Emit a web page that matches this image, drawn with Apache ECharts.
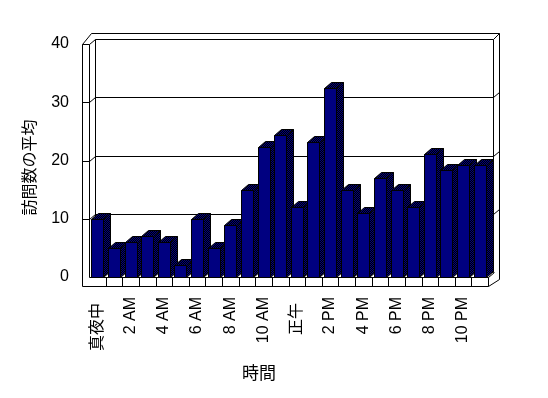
<!DOCTYPE html>
<html>
<head>
<meta charset="utf-8">
<script src="https://cdn.jsdelivr.net/npm/echarts@6/dist/echarts.min.js"></script>
<style>
  html, body { margin: 0; padding: 0; background: #fff; }
  #chart { width: 548px; height: 398px; }
</style>
</head>
<body>
<div id="chart"></div>
<script>
// hours of the day, labels shown every other one
const hours = ['真夜中', '1 AM', '2 AM', '3 AM', '4 AM', '5 AM', '6 AM', '7 AM', '8 AM', '9 AM', '10 AM', '11 AM',
  '正午', '1 PM', '2 PM', '3 PM', '4 PM', '5 PM', '6 PM', '7 PM', '8 PM', '9 PM', '10 PM', '11 PM']
const visits = [10, 5, 6, 7, 6, 2, 10, 5, 9, 15, 22.3, 24.3, 12, 23.2, 32.4, 15, 11, 17, 15, 12, 21.2, 18.3, 19.3, 19.3]
const yTicks = [0, 10, 20, 30, 40]

const font = '"Liberation Sans", "Noto Sans CJK JP", sans-serif'

// dithered navy/black fill for the shaded faces
const dither = document.createElement('canvas')
dither.width = 2
dither.height = 2
const dctx = dither.getContext('2d')
dctx.fillStyle = '#000000'
dctx.fillRect(0, 0, 2, 2)
dctx.fillStyle = '#000080'
dctx.fillRect(0, 0, 1, 1)
dctx.fillRect(1, 1, 1, 1)
const shade = { image: dither, repeat: 'repeat' }

const line = { stroke: '#000', lineWidth: 1, fill: null }
const px = v => Math.round(v) + 0.5

function renderFrame(params, api) {
  const cs = params.coordSys
  const x0 = Math.round(cs.x)
  const x1 = Math.round(cs.x + cs.width)
  const yT = Math.round(cs.y)
  const yB = Math.round(cs.y + cs.height)
  const step = api.size([1, 0])[0]
  const seg = (pts) => ({ type: 'polyline', shape: { points: pts.map(p => [px(p[0]), px(p[1])]) }, style: line, silent: true })
  const children = []
  // outer contour
  children.push({
    type: 'polygon',
    shape: { points: [[x0 - 7, yB + 9], [x0 - 7, yT], [x0 + 2, yT - 11], [x1 + 11, yT - 11], [x1 + 11, yB + 2], [x1, yB + 9]].map(p => [px(p[0]), px(p[1])]) },
    style: { stroke: '#000', lineWidth: 1, fill: '#fff' },
    silent: true
  })
  // left wall and back wall
  children.push(seg([[x0 - 7, yT], [x0, yT], [x0 + 6, yT - 5], [x1 + 5, yT - 5], [x1 + 11, yT - 11]]))
  children.push(seg([[x0, yT], [x0, yB]]))
  children.push(seg([[x0 + 6, yT - 5], [x0 + 6, yB - 5]]))
  children.push(seg([[x1 + 5, yT - 5], [x1 + 5, yB - 5]]))
  // floor
  children.push(seg([[x0, yB], [x1, yB], [x1 + 6, yB - 5]]))
  children.push(seg([[x0 + 6, yB - 5], [x1 + 5, yB - 5]]))
  children.push(seg([[x1, yB], [x1, yB + 9]]))
  for (let i = 1; i < hours.length; i++) {
    const x = x0 + step * i
    children.push(seg([[x, yB], [x, yB + 9]]))
  }
  // grid lines on the walls
  yTicks.slice(1, -1).forEach(v => {
    const y = api.coord([0, v])[1]
    children.push(seg([[x0 - 7, y], [x0, y], [x0 + 6, y - 5], [x1 + 5, y - 5], [x1 + 11, y - 10]]))
  })
  return { type: 'group', children: children }
}

function renderBar(params, api) {
  const i = api.value(0)
  const top = api.coord([i, api.value(1)])
  const base = api.coord([i, 0])
  const w = Math.round(api.size([1, 0])[0] * 0.74)
  const dx = 7
  const dy = 6
  const l = Math.round(top[0] - w / 2)
  const r = l + w
  const t = Math.round(top[1])
  const b = Math.round(base[1])
  const p = (x, y) => [px(x), px(y)]
  return {
    type: 'group',
    children: [{
      type: 'polygon',
      shape: { points: [p(r, t), p(r + dx, t - dy), p(r + dx, b - dy), p(r, b)] },
      style: { fill: shade, stroke: '#000', lineWidth: 1 }
    }, {
      type: 'polygon',
      shape: { points: [p(l, t), p(l + dx, t - dy), p(r + dx, t - dy), p(r, t)] },
      style: { fill: shade, stroke: '#000', lineWidth: 1 }
    }, {
      type: 'rect',
      shape: { x: px(l), y: px(t), width: w, height: b - t },
      style: { fill: '#000080', stroke: '#000', lineWidth: 1 }
    }]
  }
}

const chart = echarts.init(document.getElementById('chart'))
chart.setOption({
  animation: false,
  backgroundColor: '#fff',
  textStyle: { fontFamily: font },
  grid: { left: 89, right: 60, top: 44, bottom: 121, containLabel: false },
  graphic: [{
    type: 'text',
    left: 242,
    top: 366,
    style: { text: '時間', fontSize: 17, fill: '#000', fontFamily: font }
  }],
  xAxis: {
    type: 'category',
    data: hours,
    axisLine: { show: false },
    axisTick: { show: false },
    splitLine: { show: false },
    axisLabel: {
      interval: 1,
      rotate: 90,
      margin: 20,
      fontSize: 16,
      color: '#000',
      fontFamily: font,
      // Japanese labels sit a little lower in the original
      formatter: v => /[A-Z]/.test(v) ? v : '{cjk|' + v + '}',
      rich: { cjk: { fontSize: 16, padding: [0, 6, 0, 0] } }
    }
  },
  yAxis: {
    type: 'value',
    min: 0,
    max: 40,
    interval: 10,
    name: '訪問数の平均',
    nameLocation: 'middle',
    nameGap: 50,
    nameTextStyle: { fontSize: 16, color: '#000', fontFamily: font, padding: [0, 14, 0, 0] },
    axisLine: { show: false },
    axisTick: { show: false },
    splitLine: { show: false },
    axisLabel: { margin: 20, fontSize: 16, color: '#000', fontFamily: font }
  },
  series: [{
    type: 'custom',
    z: 1,
    silent: true,
    renderItem: renderFrame,
    data: [[0, 0]]
  }, {
    type: 'custom',
    z: 2,
    renderItem: renderBar,
    encode: { x: 0, y: 1 },
    data: visits.map((v, i) => [i, v])
  }]
})
</script>
</body>
</html>
